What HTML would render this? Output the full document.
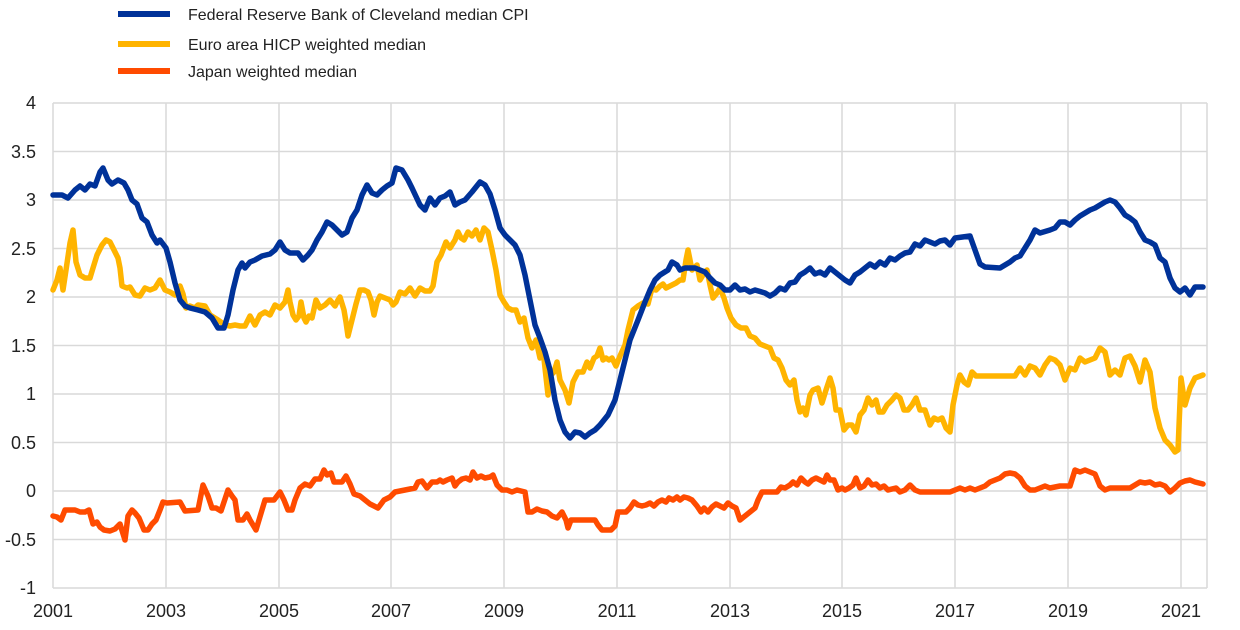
<!DOCTYPE html>
<html><head><meta charset="utf-8"><style>
body{margin:0;background:#fff;}
svg{display:block;font-family:"Liberation Sans",Arial,sans-serif;}
</style></head><body>
<svg width="1240" height="630" viewBox="0 0 1240 630">
<g stroke="#d9d9d9" stroke-width="1.5" fill="none">
<line x1="53" y1="103" x2="1207" y2="103"/><line x1="53" y1="151.5" x2="1207" y2="151.5"/>
<line x1="53" y1="200" x2="1207" y2="200"/><line x1="53" y1="248.5" x2="1207" y2="248.5"/>
<line x1="53" y1="297" x2="1207" y2="297"/><line x1="53" y1="345.5" x2="1207" y2="345.5"/>
<line x1="53" y1="394" x2="1207" y2="394"/><line x1="53" y1="442.5" x2="1207" y2="442.5"/>
<line x1="53" y1="491" x2="1207" y2="491"/><line x1="53" y1="539.5" x2="1207" y2="539.5"/>
<line x1="53" y1="588" x2="1207" y2="588"/>
<line x1="53" y1="103" x2="53" y2="588"/><line x1="166" y1="103" x2="166" y2="588"/>
<line x1="279" y1="103" x2="279" y2="588"/><line x1="391" y1="103" x2="391" y2="588"/>
<line x1="504" y1="103" x2="504" y2="588"/><line x1="617" y1="103" x2="617" y2="588"/>
<line x1="730" y1="103" x2="730" y2="588"/><line x1="842" y1="103" x2="842" y2="588"/>
<line x1="955" y1="103" x2="955" y2="588"/><line x1="1068" y1="103" x2="1068" y2="588"/>
<line x1="1181" y1="103" x2="1181" y2="588"/><line x1="1207" y1="103" x2="1207" y2="588"/>
</g>
<g font-size="18" fill="#222" text-anchor="end">
<text x="36" y="109">4</text><text x="36" y="158">3.5</text><text x="36" y="206">3</text>
<text x="36" y="255">2.5</text><text x="36" y="303">2</text><text x="36" y="352">1.5</text>
<text x="36" y="400">1</text><text x="36" y="449">0.5</text><text x="36" y="497">0</text>
<text x="36" y="546">-0.5</text><text x="36" y="594">-1</text>
</g>
<g font-size="18" fill="#222" text-anchor="middle">
<text x="53" y="617">2001</text><text x="166" y="617">2003</text><text x="279" y="617">2005</text>
<text x="391" y="617">2007</text><text x="504" y="617">2009</text><text x="617" y="617">2011</text>
<text x="730" y="617">2013</text><text x="842" y="617">2015</text><text x="955" y="617">2017</text>
<text x="1068" y="617">2019</text><text x="1181" y="617">2021</text>
</g>
<g fill="none" stroke-width="5.5" stroke-linejoin="round" stroke-linecap="round">
<polyline stroke="#FFB400" points="53,290 57,280 60,268 63,290 66,270 70,243 73,230 76,262 80,275 85,278 90,278 93,268 97,255 102,245 106,240 110,242 115,252 118,258 120,268 122,286 127,288 130,287 135,295 140,296 145,288 150,290 155,288 160,280 165,290 170,292 175,295 178,292 180,286 183,294 186,308 190,306 195,308 198,305 205,306 210,315 218,320 225,325 230,326 235,325 240,326 245,326 250,316 255,325 260,315 265,312 270,315 275,305 280,308 285,302 288,290 290,302 293,315 296,320 299,316 301,302 304,318 306,322 309,316 312,318 316,300 320,308 325,305 330,300 335,306 338,300 340,297 344,310 346,322 348,336 352,320 356,304 360,290 364,290 368,292 371,300 374,315 377,302 380,296 385,298 390,300 393,305 396,302 400,292 405,294 410,288 415,296 420,288 425,291 430,291 433,286 437,262 441,255 446,242 450,248 455,240 458,232 461,238 464,240 468,232 472,236 476,230 480,240 484,228 488,232 492,250 496,270 500,295 504,302 508,308 512,310 516,310 520,322 524,318 528,338 532,348 536,340 540,358 543,350 545,368 548,395 551,375 554,372 557,362 560,380 565,390 569,403 573,382 578,372 583,372 587,362 590,368 594,358 597,356 600,348 603,360 606,358 609,360 612,358 616,366 620,356 625,345 628,330 633,310 638,306 643,303 648,304 652,288 656,290 660,286 663,284 666,288 672,285 676,283 680,280 683,280 686,260 688,250 692,270 697,265 700,280 703,275 707,270 710,285 713,298 717,293 720,288 724,298 727,308 731,318 736,325 741,328 746,328 750,336 755,338 760,344 765,346 770,348 774,358 778,360 782,368 786,380 790,385 794,380 797,400 800,412 803,408 806,415 810,395 813,390 818,388 822,403 826,390 830,378 833,388 836,410 840,410 844,430 848,425 852,425 856,432 860,415 864,410 868,398 872,405 876,400 879,412 883,412 887,405 892,400 896,395 900,398 904,410 908,410 912,405 916,398 920,410 925,410 930,425 934,418 938,420 942,418 946,428 950,432 953,405 957,385 960,375 964,382 968,385 972,372 976,376 1015,376 1020,368 1025,375 1030,366 1035,368 1040,375 1045,365 1050,358 1055,360 1060,365 1065,380 1070,368 1075,370 1080,358 1085,362 1090,360 1095,358 1100,348 1105,352 1110,375 1115,370 1120,375 1125,358 1130,356 1135,366 1140,382 1145,360 1150,372 1155,408 1160,428 1165,440 1170,445 1175,452 1178,450 1181,378 1185,405 1190,388 1195,378 1203,375"/>
<polyline stroke="#FF4B00" points="53,516 57,517 61,520 65,510 68,510 75,510 80,512 85,512 89,510 93,524 97,522 100,527 104,530 110,531 115,529 120,524 125,540 128,516 132,510 135,513 139,518 144,530 148,530 152,524 156,520 160,510 163,502 167,503 180,502 185,511 198,510 203,485 208,496 212,508 216,508 221,511 228,490 232,496 235,500 238,520 243,520 247,514 250,520 256,530 262,510 265,500 274,500 280,492 284,500 288,510 292,510 295,500 300,488 305,484 310,486 315,479 320,479 324,470 327,475 331,473 334,482 342,482 346,476 350,484 354,494 360,496 365,500 370,504 378,508 384,500 390,497 395,492 415,488 418,482 422,481 427,488 432,482 437,482 440,480 443,482 447,480 452,478 455,486 458,482 462,479 466,478 470,480 473,472 477,478 481,476 485,478 490,477 493,475 497,485 502,490 507,490 512,492 517,490 525,492 528,512 532,512 537,509 542,511 547,512 552,516 557,518 562,512 566,520 568,528 571,520 595,520 598,525 602,530 611,530 615,526 618,512 626,512 630,508 634,502 638,505 642,506 646,505 650,503 654,506 658,502 662,500 666,502 669,498 673,500 677,497 680,500 684,497 688,498 692,500 697,506 701,512 704,508 708,512 712,507 716,504 720,506 724,508 728,503 732,506 736,508 740,520 745,516 750,512 755,508 758,500 762,492 777,492 781,487 785,488 790,485 793,482 797,485 801,478 805,482 808,484 812,480 816,478 820,480 824,482 827,475 830,480 834,480 838,490 842,488 845,490 849,488 853,485 856,478 860,488 864,486 868,480 872,485 876,484 880,488 884,486 888,490 896,488 900,492 905,490 910,485 915,490 920,492 950,492 955,490 960,488 965,490 970,488 975,490 980,488 985,486 990,482 995,480 1000,478 1005,474 1010,473 1015,474 1020,478 1025,486 1030,490 1035,490 1040,488 1045,486 1050,488 1060,486 1070,486 1075,470 1080,472 1085,470 1090,472 1095,474 1100,486 1105,490 1110,488 1130,488 1135,485 1140,482 1145,483 1150,482 1155,485 1160,484 1165,486 1170,492 1175,488 1180,483 1185,481 1190,480 1195,482 1203,484"/>
<polyline stroke="#003299" points="53,195 62,195 68,198 75,190 80,186 85,190 90,184 95,186 100,172 103,168 108,180 112,184 118,180 124,183 128,190 132,200 137,204 142,218 147,222 152,235 157,243 160,240 166,248 170,262 175,283 180,300 185,306 190,308 198,310 205,312 212,318 218,328 224,328 228,315 233,290 238,270 242,263 245,268 250,262 255,260 262,256 270,254 275,250 280,242 285,250 290,253 298,253 303,260 308,255 312,250 317,240 322,232 327,222 332,225 337,230 342,235 347,232 352,218 357,210 362,195 367,185 372,193 377,195 382,190 387,186 392,183 396,168 402,170 408,180 412,188 420,205 425,210 430,198 435,205 440,198 445,196 450,192 455,205 460,202 465,200 472,192 480,182 485,185 490,194 495,210 500,228 505,235 510,240 515,245 520,255 525,275 530,300 535,325 540,338 545,352 550,370 555,400 560,420 565,432 570,438 575,432 580,433 585,437 590,433 595,430 600,425 608,415 615,400 620,380 625,360 630,340 638,320 645,302 650,290 655,280 660,275 668,270 672,262 677,265 680,270 685,268 695,268 705,272 710,278 715,283 720,285 725,290 730,290 735,285 740,290 745,289 750,292 755,290 765,293 770,296 775,293 780,288 785,290 790,283 795,282 800,275 805,272 810,268 815,274 820,272 825,275 830,268 835,272 840,276 845,280 850,283 855,275 860,272 865,268 870,264 875,267 880,262 885,265 890,258 895,260 900,256 905,253 910,252 915,244 920,246 925,240 930,242 935,244 940,241 945,240 950,245 955,238 970,236 975,250 980,264 985,267 1000,268 1005,265 1010,262 1015,258 1020,256 1025,248 1030,240 1035,230 1040,233 1050,230 1055,228 1060,222 1065,222 1070,225 1075,220 1080,216 1085,213 1090,210 1095,208 1100,205 1105,202 1110,200 1115,202 1120,208 1125,215 1130,218 1135,222 1140,232 1145,240 1150,242 1155,245 1160,258 1165,262 1170,278 1175,288 1180,292 1185,288 1190,295 1195,287 1203,287"/>
</g>
<g stroke-width="6">
<line x1="118" y1="14" x2="170" y2="14" stroke="#003299"/>
<line x1="118" y1="44" x2="170" y2="44" stroke="#FFB400"/>
<line x1="118" y1="71" x2="170" y2="71" stroke="#FF4B00"/>
</g>
<g font-size="16" fill="#222">
<text x="188" y="20">Federal Reserve Bank of Cleveland  median CPI</text>
<text x="188" y="50">Euro area HICP weighted median</text>
<text x="188" y="77">Japan weighted median</text>
</g>
</svg>
</body></html>
